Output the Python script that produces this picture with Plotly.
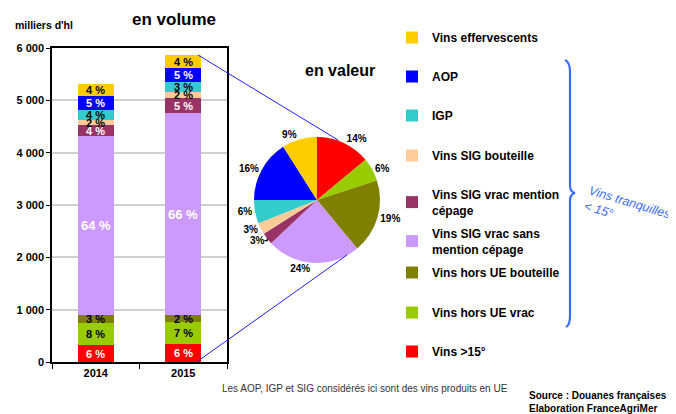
import plotly.graph_objects as go

# la page html a une marge de 8 px : la figure occupe le reste de la fenêtre
OFF = 8
W, H = 676 - OFF, 414 - OFF
FONT = "Liberation Sans, Arial, sans-serif"

# Données
annees = ["2014", "2015"]
categories = [
    "Vins >15°",
    "Vins hors UE vrac",
    "Vins hors UE bouteille",
    "Vins SIG vrac sans<br>mention cépage",
    "Vins SIG vrac mention<br>cépage",
    "Vins SIG bouteille",
    "IGP",
    "AOP",
    "Vins effervescents",
]
couleurs = ["#FF0000", "#99CC00", "#808000", "#CC99FF", "#993366",
            "#FFCC99", "#33CCCC", "#0000FF", "#FFCC00"]
couleurs_texte = ["white", "black", "black", "white", "white",
                  "black", "black", "white", "black"]

volume_2014 = [320, 420, 150, 3420, 210, 100, 190, 270, 230]
volume_2015 = [350, 410, 130, 3860, 290, 110, 195, 265, 250]
pct_2014 = ["6 %", "8 %", "3 %", "64 %", "4 %", "2 %", "4 %", "5 %", "4 %"]
pct_2015 = ["6 %", "7 %", "2 %", "66 %", "5 %", "2 %", "3 %", "5 %", "4 %"]
valeur_pct = [14, 6, 19, 24, 3, 3, 6, 16, 9]

# position verticale (px) de chaque entrée de légende, même ordre que categories
legende_y = [352, 313, 273, 234, 195, 156, 116, 77, 38]


def px(x, y):
    """pixels écran -> coordonnées papier"""
    return (x - OFF) / W, 1 - (y - OFF) / H


fig = go.Figure()

legendes = {}
for i, cat in enumerate(categories):
    nom = "legend" if i == 0 else f"legend{i + 1}"
    fig.add_trace(go.Bar(
        x=annees,
        y=[volume_2014[i], volume_2015[i]],
        name=cat,
        marker=dict(color=couleurs[i], line=dict(width=0)),
        legend=nom,
        hoverinfo="skip",
    ))
    legendes[nom] = dict(
        x=px(392, 0)[0], y=px(0, legende_y[i] - 15)[1],
        xanchor="left", yanchor="top",
        font=dict(size=12, weight="bold"),
        bgcolor="rgba(0,0,0,0)",
    )

# étiquettes des segments
for j, (vols, pcts) in enumerate([(volume_2014, pct_2014), (volume_2015, pct_2015)]):
    base = 0
    for i, v in enumerate(vols):
        fig.add_annotation(
            x=j, y=base + v / 2, xref="x", yref="y",
            text=f"<b>{pcts[i]}</b>", showarrow=False,
            xanchor="center", yanchor="middle",
            font=dict(size=13 if v > 1000 else 11, color=couleurs_texte[i], family=FONT),
        )
        base += v

# camembert
x0, y1 = px(254, 137)
x1, y0 = px(380, 263)
fig.add_trace(go.Pie(
    values=valeur_pct,
    labels=categories,
    marker=dict(colors=couleurs, line=dict(width=0)),
    sort=False,
    direction="clockwise",
    rotation=0,
    textposition="outside",
    texttemplate="<b>%{percent:.0%}</b>",
    textfont=dict(size=10, color="black", family=FONT),
    showlegend=False,
    domain=dict(x=[x0, x1], y=[y0, y1]),
    hoverinfo="skip",
))

bx0, by1 = px(52, 48)
bx1, by0 = px(227, 362)

fig.update_layout(
    width=W, height=H,
    margin=dict(l=0, r=0, t=0, b=0, autoexpand=False),
    paper_bgcolor="white",
    plot_bgcolor="white",
    barmode="stack",
    bargap=0.59,
    separators=", ",
    font=dict(family=FONT, color="black"),
    xaxis=dict(
        type="category", automargin=False,
        domain=[bx0, bx1], range=[-0.5, 1.5],
        showline=True, linecolor="black", linewidth=1.5, mirror=True,
        ticks="outside", tickson="boundaries", ticklen=5, tickcolor="black",
        tickfont=dict(size=11, weight="bold"),
    ),
    yaxis=dict(
        automargin=False,
        domain=[by0, by1],
        range=[0, 6000], tickvals=[0, 1000, 2000, 3000, 4000, 5000, 6000],
        tickformat=",d",
        showline=True, linecolor="black", linewidth=1.5, mirror=True,
        showgrid=True, gridcolor="#D0D0D0", gridwidth=1.5,
        ticks="outside", ticklen=4, tickcolor="black",
        tickfont=dict(size=11, weight="bold"),
    ),
    **legendes,
)

# titres
for txt, (x, y), size in [("en volume", (174, 19), 17),
                          ("milliers d'hl", (44, 25), 10.5),
                          ("en valeur", (340, 70), 16)]:
    ax, ay = px(x, y)
    fig.add_annotation(x=ax, y=ay, xref="paper", yref="paper", text=f"<b>{txt}</b>",
                       xanchor="center", yanchor="middle",
                       showarrow=False, font=dict(size=size, family=FONT))

# traits de liaison barre 2015 -> camembert
for (xa, ya), (xb, yb) in [((198, 55), (338, 140)), ((198, 361), (347, 255))]:
    pa, pb = px(xa, ya), px(xb, yb)
    fig.add_shape(type="line", xref="paper", yref="paper",
                  x0=pa[0], y0=pa[1], x1=pb[0], y1=pb[1],
                  line=dict(color="#2020FF", width=1))

# accolade
pts = [("M", (565, 60)), ("Q", (570, 62)), ("", (570, 72)), ("L", (570, 185)),
       ("Q", (570, 192)), ("", (575, 193)), ("Q", (570, 194)), ("", (570, 201)),
       ("L", (570, 316)), ("Q", (570, 325)), ("", (566, 327))]
path = ""
for cmd, (x, y) in pts:
    p = px(x, y)
    path += f"{cmd}{p[0]:.5f},{p[1]:.5f} "
fig.add_shape(type="path", xref="paper", yref="paper", path=path,
              line=dict(color="#3A6BFF", width=2.2))

ax, ay = px(627, 210)
fig.add_annotation(x=ax, y=ay, xref="paper", yref="paper",
                   text="<i>Vins tranquilles<br>< 15°</i>", align="left",
                   xanchor="center", yanchor="middle",
                   textangle=17, showarrow=False,
                   font=dict(size=12.5, color="#3A6BFF", family=FONT))

# notes
ax, ay = px(365, 388)
fig.add_annotation(x=ax, y=ay, xref="paper", yref="paper",
                   xanchor="center", yanchor="middle",
                   text="Les AOP, IGP et SIG considérés ici sont des vins produits en UE",
                   showarrow=False, font=dict(size=10, color="#333333", family=FONT))
ax, ay = px(527, 402)
fig.add_annotation(x=ax, y=ay, xref="paper", yref="paper",
                   xanchor="left", yanchor="middle",
                   text="<b>Source : Douanes françaises<br>Elaboration FranceAgriMer</b>",
                   align="left", showarrow=False,
                   font=dict(size=10, family=FONT))

fig.write_html("out.html")
